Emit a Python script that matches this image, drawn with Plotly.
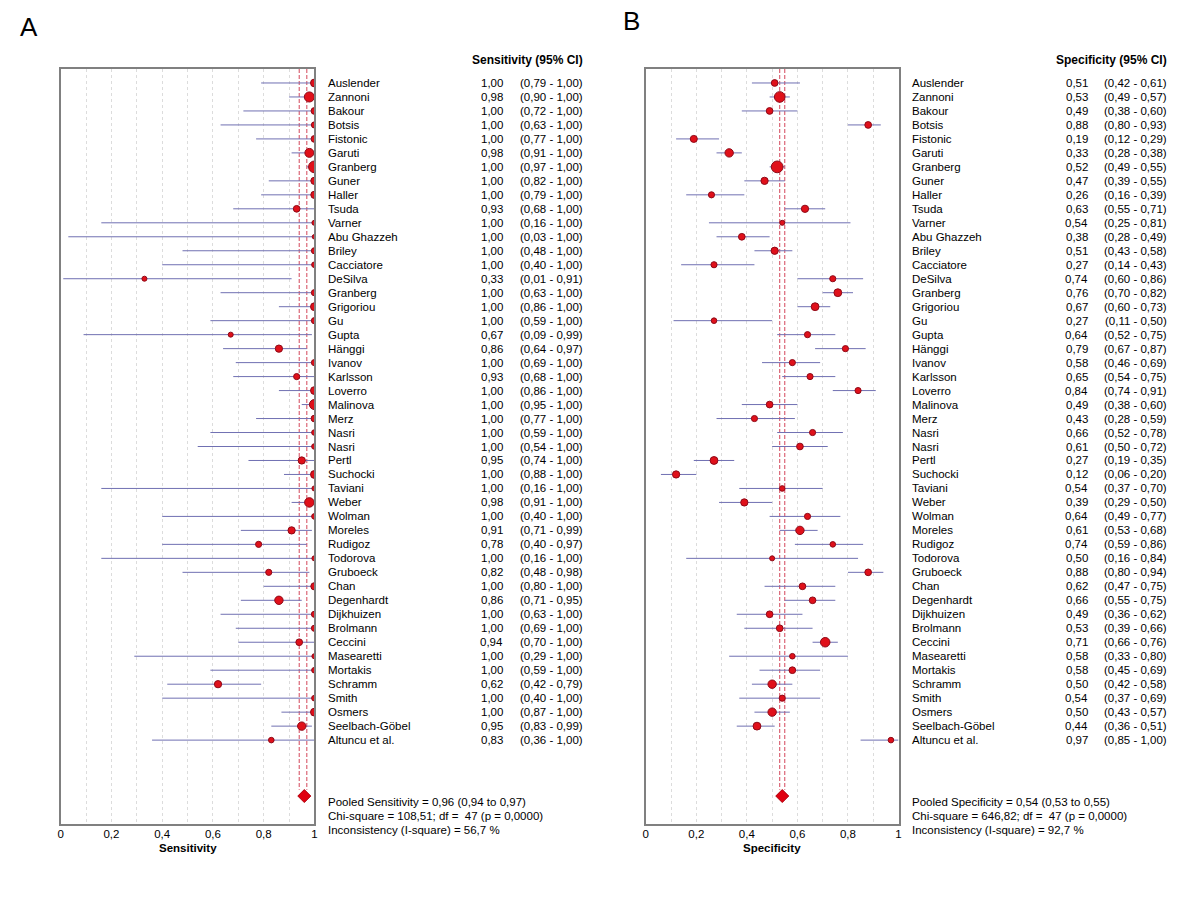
import plotly.graph_objects as go

# ---------------- data ----------------
studies = ["Auslender", "Zannoni", "Bakour", "Botsis", "Fistonic", "Garuti", "Granberg", "Guner",
           "Haller", "Tsuda", "Varner", "Abu Ghazzeh", "Briley", "Cacciatore", "DeSilva", "Granberg",
           "Grigoriou", "Gu", "Gupta", "Hänggi", "Ivanov", "Karlsson", "Loverro", "Malinova",
           "Merz", "Nasri", "Nasri", "Pertl", "Suchocki", "Taviani", "Weber", "Wolman",
           "Moreles", "Rudigoz", "Todorova", "Gruboeck", "Chan", "Degenhardt", "Dijkhuizen", "Brolmann",
           "Ceccini", "Masearetti", "Mortakis", "Schramm", "Smith", "Osmers", "Seelbach-Göbel", "Altuncu et al."]

sens = [1.00, 0.98, 1.00, 1.00, 1.00, 0.98, 1.00, 1.00, 1.00, 0.93, 1.00, 1.00, 1.00, 1.00, 0.33, 1.00,
        1.00, 1.00, 0.67, 0.86, 1.00, 0.93, 1.00, 1.00, 1.00, 1.00, 1.00, 0.95, 1.00, 1.00, 0.98, 1.00,
        0.91, 0.78, 1.00, 0.82, 1.00, 0.86, 1.00, 1.00, 0.94, 1.00, 1.00, 0.62, 1.00, 1.00, 0.95, 0.83]
sens_lo = [0.79, 0.90, 0.72, 0.63, 0.77, 0.91, 0.97, 0.82, 0.79, 0.68, 0.16, 0.03, 0.48, 0.40, 0.01, 0.63,
           0.86, 0.59, 0.09, 0.64, 0.69, 0.68, 0.86, 0.95, 0.77, 0.59, 0.54, 0.74, 0.88, 0.16, 0.91, 0.40,
           0.71, 0.40, 0.16, 0.48, 0.80, 0.71, 0.63, 0.69, 0.70, 0.29, 0.59, 0.42, 0.40, 0.87, 0.83, 0.36]
sens_hi = [1.00, 1.00, 1.00, 1.00, 1.00, 1.00, 1.00, 1.00, 1.00, 1.00, 1.00, 1.00, 1.00, 1.00, 0.91, 1.00,
           1.00, 1.00, 0.99, 0.97, 1.00, 1.00, 1.00, 1.00, 1.00, 1.00, 1.00, 1.00, 1.00, 1.00, 1.00, 1.00,
           0.99, 0.97, 1.00, 0.98, 1.00, 0.95, 1.00, 1.00, 1.00, 1.00, 1.00, 0.79, 1.00, 1.00, 0.99, 1.00]

spec = [0.51, 0.53, 0.49, 0.88, 0.19, 0.33, 0.52, 0.47, 0.26, 0.63, 0.54, 0.38, 0.51, 0.27, 0.74, 0.76,
        0.67, 0.27, 0.64, 0.79, 0.58, 0.65, 0.84, 0.49, 0.43, 0.66, 0.61, 0.27, 0.12, 0.54, 0.39, 0.64,
        0.61, 0.74, 0.50, 0.88, 0.62, 0.66, 0.49, 0.53, 0.71, 0.58, 0.58, 0.50, 0.54, 0.50, 0.44, 0.97]
spec_lo = [0.42, 0.49, 0.38, 0.80, 0.12, 0.28, 0.49, 0.39, 0.16, 0.55, 0.25, 0.28, 0.43, 0.14, 0.60, 0.70,
           0.60, 0.11, 0.52, 0.67, 0.46, 0.54, 0.74, 0.38, 0.28, 0.52, 0.50, 0.19, 0.06, 0.37, 0.29, 0.49,
           0.53, 0.59, 0.16, 0.80, 0.47, 0.55, 0.36, 0.39, 0.66, 0.33, 0.45, 0.42, 0.37, 0.43, 0.36, 0.85]
spec_hi = [0.61, 0.57, 0.60, 0.93, 0.29, 0.38, 0.55, 0.55, 0.39, 0.71, 0.81, 0.49, 0.58, 0.43, 0.86, 0.82,
           0.73, 0.50, 0.75, 0.87, 0.69, 0.75, 0.91, 0.60, 0.59, 0.78, 0.72, 0.35, 0.20, 0.70, 0.50, 0.77,
           0.68, 0.86, 0.84, 0.94, 0.75, 0.75, 0.62, 0.66, 0.76, 0.80, 0.69, 0.58, 0.69, 0.57, 0.51, 1.00]

# study weights (marker diameters)
sens_weight = [7, 9, 6, 5.5, 6, 8, 10.5, 6.5, 6.5, 6, 4.5, 4, 5.5, 5, 4.5, 5.5,
               7, 5.5, 4.5, 6.5, 5.5, 5.5, 7, 9, 6, 5, 5, 6.5, 7, 4.5, 8.5, 5,
               6.5, 5.5, 4.5, 5.5, 6.5, 7.5, 5.5, 5.5, 6, 4.5, 5, 6.5, 5, 7, 7.5, 5]
spec_weight = [6, 9.5, 6, 6, 6.3, 7.5, 10.5, 6.5, 5.5, 6.5, 4.5, 6, 6.5, 5.5, 5.5, 7,
               7, 5, 5.5, 5.5, 5.5, 5.5, 5.5, 6, 5.5, 5.5, 6, 7, 6.5, 5, 6.5, 5.5,
               7.5, 5, 4.5, 6, 6, 6, 6, 6, 8.5, 5, 6, 7.5, 5.5, 7.5, 7, 5]

pooled_sens = 0.96
pooled_sens_ci = [0.94, 0.97]
pooled_spec = 0.54
pooled_spec_ci = [0.53, 0.55]

sens_stats = ["Pooled Sensitivity = 0,96 (0,94 to 0,97)",
              "Chi-square = 108,51; df = \u00a047 (p = 0,0000)",
              "Inconsistency (I-square) = 56,7 %"]
spec_stats = ["Pooled Specificity = 0,54 (0,53 to 0,55)",
              "Chi-square = 646,82; df = \u00a047 (p = 0,0000)",
              "Inconsistency (I-square) = 92,7 %"]

tick_vals = [0, 0.2, 0.4, 0.6, 0.8, 1]
tick_text = ["0", "0,2", "0,4", "0,6", "0,8", "1"]

# ---------------- layout constants ----------------
W, H = 1200, 900
FONT = "Arial, Liberation Sans, sans-serif"
TOP_PX, BOT_PX = 69, 824
POOLED_ROW = 51
Y_RANGE = [53, -1]
CI_COLOR = "#7070b2"
DOT_FILL = "#e0101a"
DOT_EDGE = "#8e0a18"
POOL_LINE = "#d4465a"
GRID = "#dcdcdc"
TXT = 11.5
SIZE_SCALE = 1.12


def fmt(v):
    return f"{v:.2f}".replace(".", ",")


def px(x):
    return x / W


def py(y):
    return 1 - y / H


fig = go.Figure()
annotations = []

panels = [
    dict(xa="x", ya="y", left=58, right=313, est=sens, lo=sens_lo, hi=sens_hi, wt=sens_weight,
         pooled=pooled_sens, pci=pooled_sens_ci, header="Sensitivity (95% CI)", title="Sensitivity",
         stats=sens_stats, letter="A", letter_xy=(26, 27)),
    dict(xa="x2", ya="y2", left=646, right=900, est=spec, lo=spec_lo, hi=spec_hi, wt=spec_weight,
         pooled=pooled_spec, pci=pooled_spec_ci, header="Specificity (95% CI)", title="Specificity",
         stats=spec_stats, letter="B", letter_xy=(632, 21)),
]

rows = list(range(len(studies)))

for p in panels:
    # pooled CI dashed lines
    for xv in p["pci"]:
        fig.add_trace(go.Scatter(x=[xv, xv], y=[-1, POOLED_ROW - 0.45], mode="lines",
                                 line=dict(color=POOL_LINE, width=1, dash="4px,2px"),
                                 xaxis=p["xa"], yaxis=p["ya"], hoverinfo="skip", showlegend=False))
    # study estimates with CI
    fig.add_trace(go.Scatter(
        x=p["est"], y=rows, mode="markers",
        marker=dict(size=[w * SIZE_SCALE for w in p["wt"]], color=DOT_FILL, opacity=1,
                    line=dict(color=DOT_EDGE, width=1)),
        error_x=dict(type="data", symmetric=False,
                     array=[h - e for h, e in zip(p["hi"], p["est"])],
                     arrayminus=[e - l for e, l in zip(p["est"], p["lo"])],
                     color=CI_COLOR, thickness=1, width=0),
        xaxis=p["xa"], yaxis=p["ya"], showlegend=False))
    # pooled diamond
    fig.add_trace(go.Scatter(x=[p["pooled"]], y=[POOLED_ROW], mode="markers",
                             marker=dict(symbol="diamond", size=10, color="#e00010", opacity=1,
                                         line=dict(color="#b0000c", width=1)),
                             xaxis=p["xa"], yaxis=p["ya"], showlegend=False))

    R = p["right"]
    # header
    annotations.append(dict(x=px(R + 272), y=py(60), xref="paper", yref="paper", text="<b>%s</b>" % p["header"],
                            showarrow=False, xanchor="right", yanchor="middle",
                            font=dict(size=12, family=FONT, color="#000")))
    for i, name in enumerate(studies):
        annotations.append(dict(x=px(R + 12), y=i, xref="paper", yref=p["ya"], text=name, showarrow=False,
                                xanchor="left", yanchor="middle", font=dict(size=TXT, family=FONT, color="#000")))
        annotations.append(dict(x=px(R + 192), y=i, xref="paper", yref=p["ya"], text=fmt(p["est"][i]),
                                showarrow=False, xanchor="right", yanchor="middle",
                                font=dict(size=TXT, family=FONT, color="#000")))
        annotations.append(dict(x=px(R + 272), y=i, xref="paper", yref=p["ya"],
                                text="(%s - %s)" % (fmt(p["lo"][i]), fmt(p["hi"][i])),
                                showarrow=False, xanchor="right", yanchor="middle",
                                font=dict(size=TXT, family=FONT, color="#000")))
    for k, line in enumerate(p["stats"]):
        annotations.append(dict(x=px(R + 12), y=py(802 + 14 * k), xref="paper", yref="paper", text=line,
                                showarrow=False, xanchor="left", yanchor="middle",
                                font=dict(size=TXT, family=FONT, color="#000")))
    # axis title
    annotations.append(dict(x=px((p["left"] + R) / 2), y=py(848), xref="paper", yref="paper",
                            text="<b>%s</b>" % p["title"], showarrow=False, xanchor="center", yanchor="middle",
                            font=dict(size=11.5, family=FONT, color="#000")))
    # panel letter
    annotations.append(dict(x=px(p["letter_xy"][0]), y=py(p["letter_xy"][1]), xref="paper", yref="paper",
                            text=p["letter"], showarrow=False, xanchor="center", yanchor="middle",
                            font=dict(size=26, family=FONT, color="#000")))

xaxis_common = dict(range=[0, 1], tickvals=tick_vals, ticktext=tick_text, ticks="",
                    showline=True, mirror=True, linecolor="#808080", linewidth=1.5,
                    showgrid=True, gridcolor=GRID, griddash="dot", gridwidth=1,
                    minor=dict(dtick=0.1, tick0=0, showgrid=True, gridcolor=GRID, griddash="dot", gridwidth=1),
                    zeroline=False, tickfont=dict(size=11.5, family=FONT, color="#000"),
                    ticklabelstandoff=-2, fixedrange=True)
yaxis_common = dict(range=Y_RANGE, showticklabels=False, ticks="", showgrid=False, zeroline=False,
                    showline=True, mirror=True, linecolor="#808080", linewidth=1.5,
                    domain=[py(BOT_PX), py(TOP_PX)], fixedrange=True)

fig.update_layout(
    width=W, height=H, autosize=False,
    margin=dict(l=0, r=0, t=0, b=0, pad=0),
    paper_bgcolor="white", plot_bgcolor="white",
    xaxis=dict(domain=[px(58), px(313)], anchor="y", **xaxis_common),
    yaxis=dict(anchor="x", **yaxis_common),
    xaxis2=dict(domain=[px(646), px(900)], anchor="y2", **xaxis_common),
    yaxis2=dict(anchor="x2", **yaxis_common),
    annotations=annotations,
    font=dict(family=FONT, size=12, color="#000"),
    showlegend=False,
)

fig.write_html("out.html", config={"displayModeBar": False},
               post_script="document.body.style.margin='0';")
